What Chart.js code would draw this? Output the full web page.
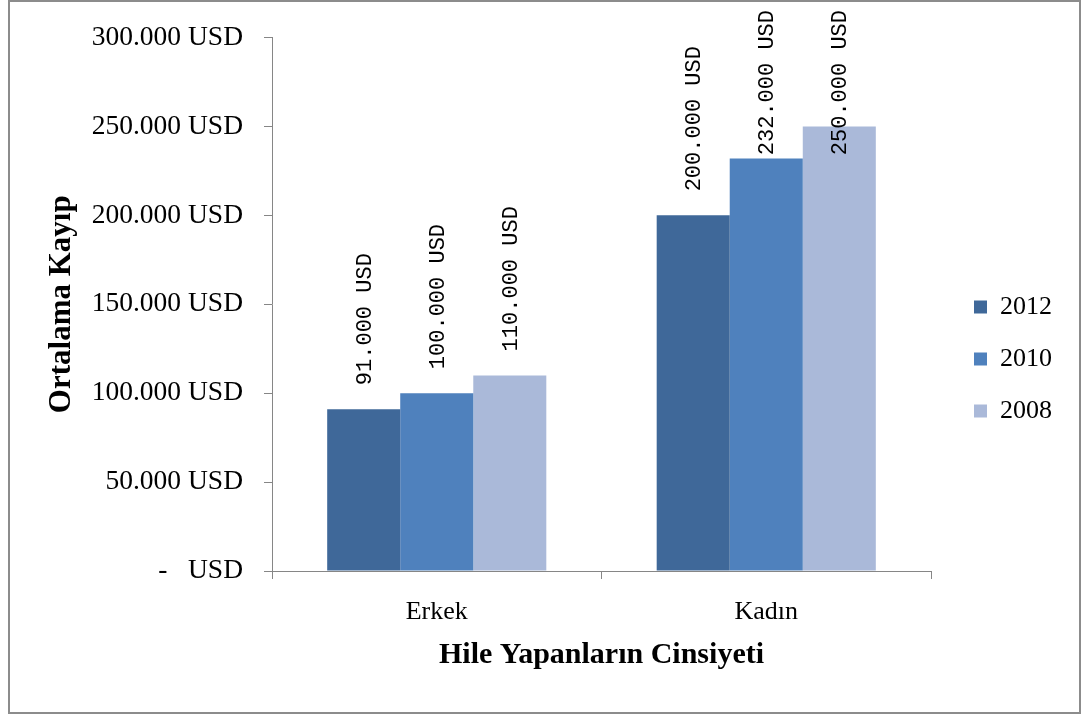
<!DOCTYPE html>
<html>
<head>
<meta charset="utf-8">
<title>Ortalama Kayıp</title>
<script src="https://cdn.jsdelivr.net/npm/chart.js@4/dist/chart.umd.min.js"></script>
<style>
    body { margin: 0; background: #fff; }
    #wrap { width: 1083px; height: 715px; }
</style>
</head>
<body>
<div id="wrap"><canvas id="myChart" width="1083" height="715"></canvas></div>
<script>
var categories = ['Erkek', 'Kadın'];
var years = ['2012', '2010', '2008'];
var values2012 = [91000, 200000];
var values2010 = [100000, 232000];
var values2008 = [110000, 250000];
var yMax = 300000;
var yStep = 50000;

var serif = "'Liberation Serif', 'Times New Roman', serif";
var mono = "'Liberation Mono', 'Courier New', monospace";
var axisGray = '#868686';

// 91000 -> "91.000"
function fmt(v) {
    return String(v).replace(/\B(?=(\d{3})+(?!\d))/g, '.');
}

// gray frame round the whole chart
var framePlugin = {
    id: 'frame',
    beforeDraw: function (chart) {
        var ctx = chart.ctx;
        ctx.save();
        ctx.fillStyle = '#fff';
        ctx.fillRect(0, 0, chart.width, chart.height);
        ctx.strokeStyle = '#8c8c8c';
        ctx.lineWidth = 2;
        ctx.strokeRect(9, 1, 1071, 712);
        ctx.restore();
    }
};

// move the legend a bit away from the plot
var legendShift = {
    id: 'legendShift',
    afterLayout: function (chart) {
        var lg = chart.legend;
        if (!lg) return;
        lg.left += 17; lg.right += 17;
        lg.top -= 2; lg.bottom -= 2;
    }
};

// vertical value labels above each bar, kept inside the frame
var valueLabels = {
    id: 'valueLabels',
    afterDatasetsDraw: function (chart) {
        var ctx = chart.ctx;
        ctx.save();
        ctx.font = '22px ' + mono;
        ctx.fillStyle = '#000';
        ctx.textAlign = 'left';
        ctx.textBaseline = 'middle';
        chart.data.datasets.forEach(function (ds, i) {
            var meta = chart.getDatasetMeta(i);
            meta.data.forEach(function (bar, j) {
                var text = fmt(ds.data[j]) + ' USD';
                var w = ctx.measureText(text).width;
                var start = bar.y - 24;
                if (start - w < 10) start = 10 + w;
                ctx.save();
                ctx.translate(bar.x + 1, start);
                ctx.rotate(-Math.PI / 2);
                ctx.fillText(text, 0, 0);
                ctx.restore();
            });
        });
        ctx.restore();
    }
};

var chartData = {
    labels: categories,
    datasets: [
        { label: years[0], data: values2012, backgroundColor: '#3f6899' },
        { label: years[1], data: values2010, backgroundColor: '#4f81bd' },
        { label: years[2], data: values2008, backgroundColor: '#aab9d9' }
    ]
};

var chartOptions = {
    responsive: false,
    animation: false,
    devicePixelRatio: 1,
    layout: { padding: { left: 30, right: 38, top: 37, bottom: 30 } },
    datasets: {
        bar: { categoryPercentage: 0.665, barPercentage: 1.0 }
    },
    scales: {
        x: {
            afterFit: function (scale) { scale.height = 114; },
            grid: { display: true, drawOnChartArea: false, drawTicks: true, tickLength: 8, color: axisGray, offset: true },
            border: { display: true, color: axisGray },
            ticks: { color: '#000', padding: 18, font: { family: serif, size: 26 } },
            title: {
                display: true,
                text: 'Hile Yapanların Cinsiyeti',
                color: '#000',
                padding: { top: 0, bottom: 12 },
                font: { family: serif, size: 30, weight: 'bold' }
            }
        },
        y: {
            min: 0,
            max: yMax,
            afterFit: function (scale) { scale.width = 242; },
            grid: { display: true, drawOnChartArea: false, drawTicks: true, tickLength: 8, color: axisGray },
            border: { display: true, color: axisGray },
            ticks: {
                stepSize: yStep,
                color: '#000',
                padding: 21,
                font: { family: serif, size: 27.5 },
                callback: function (v) {
                    return v === 0 ? '-   USD' : fmt(v) + ' USD';
                }
            },
            title: {
                display: true,
                text: 'Ortalama Kayıp',
                color: '#000',
                padding: { top: 13, bottom: 0 },
                font: { family: serif, size: 31, weight: 'bold' }
            }
        }
    },
    plugins: {
        tooltip: { enabled: false },
        legend: {
            position: 'right',
            labels: {
                color: '#000',
                boxWidth: 13,
                boxHeight: 13,
                padding: 26,
                font: { family: serif, size: 26 }
            }
        }
    }
};

var ctx = document.getElementById('myChart').getContext('2d');
var myChart = new Chart(ctx, {
    type: 'bar',
    data: chartData,
    options: chartOptions,
    plugins: [framePlugin, legendShift, valueLabels]
});
</script>
</body>
</html>
